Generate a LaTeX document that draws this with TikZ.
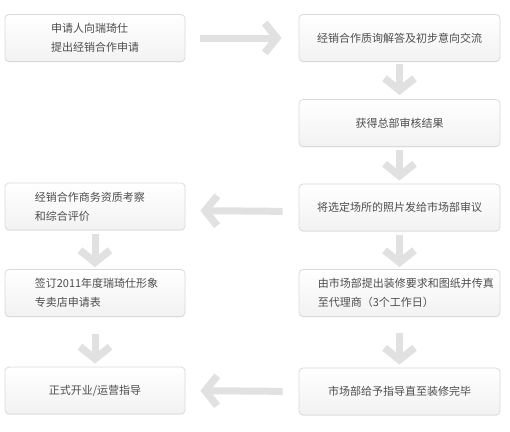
\documentclass[tikz,border=0pt]{standalone}
\usepackage{fontspec}
\setmainfont{Noto Sans CJK SC}
\usetikzlibrary{arrows.meta,shadows}
\definecolor{boxline}{HTML}{DADADA}
\definecolor{boxtop}{HTML}{FFFFFF}
\definecolor{boxbot}{HTML}{F2F2F2}
\definecolor{arrowgray}{HTML}{E1E1E1}
\definecolor{txtgray}{HTML}{4D4D4D}
\tikzset{
  stepbox/.style={draw=boxline, line width=0.8pt, rounded corners=4pt,
    top color=boxtop, bottom color=boxbot, minimum height=47pt,
    inner sep=0pt, text=txtgray, align=center,
    font=\fontsize{11pt}{19pt}\selectfont,
    drop shadow={shadow xshift=0pt, shadow yshift=-1pt, opacity=0.10}},
  leftbox/.style={stepbox, minimum width=180pt},
  rightbox/.style={stepbox, minimum width=201pt},
  boxtext/.style={text=txtgray, align=left, inner sep=0pt, anchor=west,
    font=\fontsize{11pt}{19pt}\selectfont},
  flow/.style={draw=arrowgray, line width=7pt,
    -{Straight Barb[length=12pt, width=30pt, line width=7.5pt]}}
}
\begin{document}
\begin{tikzpicture}[x=1pt,y=-1pt]
\useasboundingbox (0,0) rectangle (510,431);
% boxes
\node[leftbox, align=left]  (l1) at (95,38)    {申请人向瑞琦仕\\提出经销合作申请};
\node[rightbox] (r1) at (399.5,38) {经销合作质询解答及初步意向交流};
\node[rightbox] (r2) at (399.5,123) {获得总部审核结果};
\node[rightbox] (r3) at (399.5,207.5) {将选定场所的照片发给市场部审议};
\node[leftbox]  (l3) at (95,206.5) {};
\node[boxtext]  (l3t) at ([xshift=30pt]l3.west) {经销合作商务资质考察\\和综合评价};
\node[leftbox]  (l4) at (95,293) {};
\node[boxtext]  (l4t) at ([xshift=30pt]l4.west) {签订2011年度瑞琦仕形象\\专卖店申请表};
\node[rightbox] (r4) at (399.5,293) {};
\node[boxtext]  (r4t) at ([xshift=19pt]r4.west) {由市场部提出装修要求和图纸并传真\\至代理商（3个工作日）};
\node[leftbox]  (l5) at (95,390.5) {正式开业/运营指导};
\node[rightbox] (r5) at (399.5,391.5) {市场部给予指导直至装修完毕};
% arrows
\draw[flow, shorten <=15pt, shorten >=17pt] (l1.east) -- (r1.west);
\draw[flow, shorten <=2pt, shorten >=4pt] (r1.south) -- (r2.north);
\draw[flow, shorten <=3pt, shorten >=3pt] (r2.south) -- (r3.north);
\draw[flow, shorten <=16pt, shorten >=15pt] ([yshift=-4pt]r3.west) -- ([yshift=-4pt]l3.east);
\draw[flow, shorten <=4pt, shorten >=2pt] (l3.south) -- (l4.north);
\draw[flow, shorten <=4pt, shorten >=2pt] (r3.south) -- (r4.north);
\draw[flow, shorten <=16pt, shorten >=3pt] (r4.south) -- (r5.north);
\draw[flow, shorten <=17pt, shorten >=3pt] (l4.south) -- (l5.north);
\draw[flow, shorten <=16pt, shorten >=15pt] (r5.west) -- (l5.east);
\end{tikzpicture}
\end{document}
